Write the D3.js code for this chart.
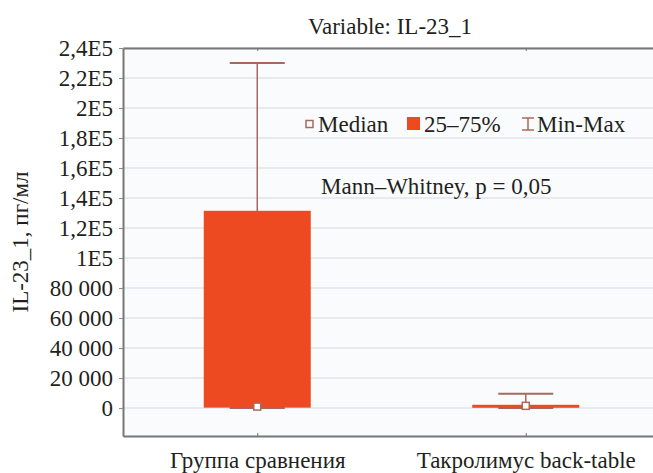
<!DOCTYPE html>
<html>
<head>
<meta charset="utf-8">
<script src="https://cdn.jsdelivr.net/npm/d3@7"></script>
<style>
  body { margin: 0; background: #fff; }
</style>
</head>
<body>
<div id="chart"></div>
<script>
// Data
var groups = ["Группа сравнения", "Такролимус back-table"];
var minVals = [0, 0];
var q1Vals = [300, 300];
var medianVals = [1000, 1500];
var q3Vals = [131500, 2200];
var maxVals = [230000, 9500];

var tickValues = [0, 20000, 40000, 60000, 80000, 100000, 120000, 140000, 160000, 180000, 200000, 220000, 240000];
var tickLabels = ["0", "20 000", "40 000", "60 000", "80 000", "1E5", "1,2E5", "1,4E5", "1,6E5", "1,8E5", "2E5", "2,2E5", "2,4E5"];

var data = groups.map(function(g, i) {
  return {group: g, min: minVals[i], q1: q1Vals[i], median: medianVals[i], q3: q3Vals[i], max: maxVals[i]};
});

var W = 653, H = 473;
var margin = {top: 48, right: -7, bottom: 37, left: 123},
    width = W - margin.left - margin.right,
    height = H - margin.top - margin.bottom;

var boxColor = "#ee4a22",
    whiskerColor = "#a8695c",
    textColor = "#231f20",
    fontFamily = "'Liberation Serif', 'Times New Roman', serif",
    fontSize = "23px";

var svg = d3.select("#chart")
  .append("svg")
    .attr("width", W)
    .attr("height", H);

var g = svg.append("g")
    .attr("transform", "translate(" + margin.left + "," + margin.top + ")");

function styleText(sel) {
  return sel.style("font-family", fontFamily)
    .style("font-size", fontSize)
    .attr("fill", textColor);
}

// Scales
var x = d3.scalePoint().domain(groups).range([0, width]).padding(0.5);
var y = d3.scaleLinear().domain([-18600, 240000]).range([height, 0]);

// Plot background
g.append("rect")
    .attr("width", width)
    .attr("height", height)
    .attr("fill", "#fafbfd");

// Grid lines
g.append("g")
    .selectAll("line")
    .data(tickValues)
    .enter().append("line")
    .attr("x1", 0)
    .attr("x2", width)
    .attr("y1", function(d) { return y(d); })
    .attr("y2", function(d) { return y(d); })
    .attr("stroke", "#e2e4ea")
    .attr("stroke-width", 1.5);

// Y axis
var yAxis = g.append("g")
    .call(d3.axisLeft(y)
      .tickValues(tickValues)
      .tickFormat(function(d, i) { return tickLabels[i]; })
      .tickSizeInner(4)
      .tickSizeOuter(0)
      .tickPadding(6));
yAxis.select(".domain").attr("stroke", "#777").attr("stroke-width", 2);
yAxis.selectAll(".tick line").attr("stroke", "#888");
styleText(yAxis.selectAll("text"));

// X axis (bottom)
var xAxis = g.append("g")
    .attr("transform", "translate(0," + height + ")")
    .call(d3.axisBottom(x).tickSizeInner(-3).tickSizeOuter(0).tickPadding(16));
xAxis.select(".domain").attr("stroke", "#777").attr("stroke-width", 2);
xAxis.selectAll(".tick line").attr("stroke", "#777");
styleText(xAxis.selectAll("text"));

// Top border
var topAxis = g.append("g")
    .call(d3.axisTop(x).tickSizeInner(-3).tickSizeOuter(0).tickFormat(""));
topAxis.select(".domain").attr("stroke", "#777").attr("stroke-width", 2);
topAxis.selectAll(".tick line").attr("stroke", "#777");

// Box plots
var boxW = 107, capW = 55;
var box = g.selectAll(".box")
    .data(data)
    .enter().append("g")
    .attr("class", "box")
    .attr("transform", function(d) { return "translate(" + x(d.group) + ",0)"; });

// whisker stem
box.append("line")
    .attr("x1", 0).attr("x2", 0)
    .attr("y1", function(d) { return y(d.max); })
    .attr("y2", function(d) { return y(d.min); })
    .attr("stroke", whiskerColor)
    .attr("stroke-width", 1.5);

// caps
box.append("line")
    .attr("x1", -capW / 2).attr("x2", capW / 2)
    .attr("y1", function(d) { return y(d.max); })
    .attr("y2", function(d) { return y(d.max); })
    .attr("stroke", whiskerColor)
    .attr("stroke-width", 2);
box.append("line")
    .attr("x1", -capW / 2).attr("x2", capW / 2)
    .attr("y1", function(d) { return y(d.min); })
    .attr("y2", function(d) { return y(d.min); })
    .attr("stroke", whiskerColor)
    .attr("stroke-width", 2);

// 25-75% box
box.append("rect")
    .attr("x", -boxW / 2)
    .attr("width", boxW)
    .attr("y", function(d) { return y(d.q3); })
    .attr("height", function(d) { return Math.max(3, y(d.q1) - y(d.q3)); })
    .attr("fill", boxColor);

// median marker
box.append("rect")
    .attr("x", -3.5)
    .attr("y", function(d) { return y(d.median) - 3.5; })
    .attr("width", 7)
    .attr("height", 7)
    .attr("fill", "#fff")
    .attr("stroke", whiskerColor)
    .attr("stroke-width", 1.5);

// Title
styleText(svg.append("text")
    .attr("x", 390)
    .attr("y", 34)
    .attr("text-anchor", "middle")
    .text("Variable: IL-23_1"));

// Y axis title
styleText(svg.append("text")
    .attr("transform", "rotate(-90)")
    .attr("x", -242)
    .attr("y", 28)
    .attr("text-anchor", "middle")
    .text("IL-23_1, пг/мл"));

// Legend
var legend = svg.append("g").attr("transform", "translate(0,124)");
legend.append("rect")
    .attr("x", 306).attr("y", -3.5).attr("width", 7).attr("height", 7)
    .attr("fill", "#fff").attr("stroke", whiskerColor).attr("stroke-width", 1.5);
styleText(legend.append("text").attr("x", 318).attr("y", 8).text("Median"));
legend.append("rect")
    .attr("x", 407).attr("y", -7).attr("width", 13).attr("height", 13)
    .attr("fill", boxColor);
styleText(legend.append("text").attr("x", 424).attr("y", 8).text("25–75%"));
legend.append("path")
    .attr("d", "M522,-6H534M528,-6V6M522,6H534")
    .attr("fill", "none")
    .attr("stroke", whiskerColor)
    .attr("stroke-width", 1.5);
styleText(legend.append("text").attr("x", 537).attr("y", 8).text("Min-Max"));

// Test annotation
styleText(svg.append("text")
    .attr("x", 321)
    .attr("y", 194)
    .text("Mann–Whitney, p = 0,05"));
</script>
</body>
</html>
